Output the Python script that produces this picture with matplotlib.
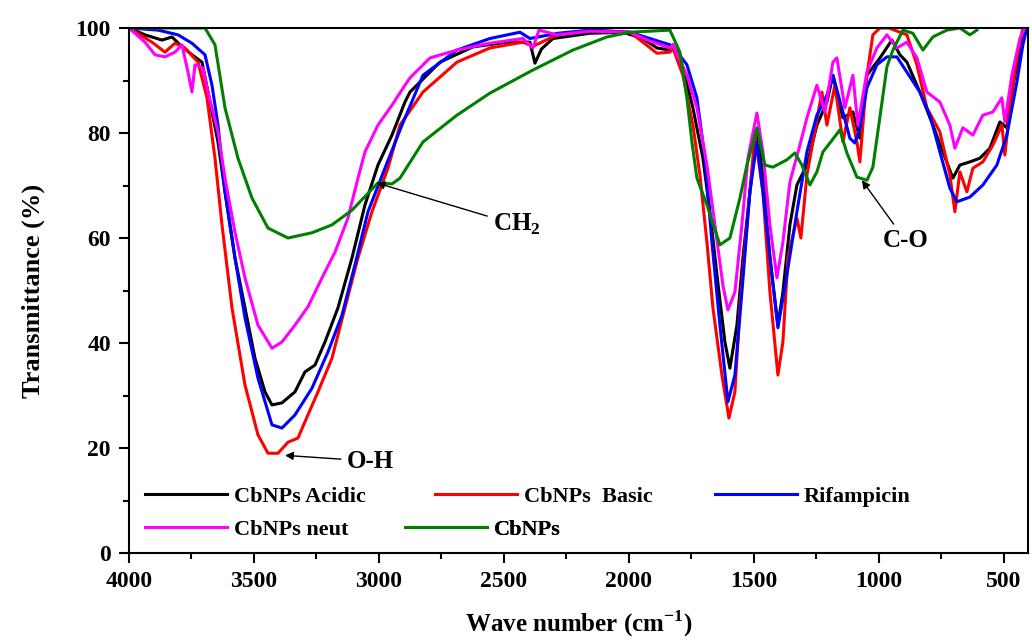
import numpy as np
import matplotlib
matplotlib.use('Agg')
import matplotlib.pyplot as plt

plt.rcParams['font.family'] = 'Liberation Serif'
plt.rcParams['font.weight'] = 'bold'
plt.rcParams['mathtext.fontset'] = 'custom'
plt.rcParams['mathtext.rm'] = 'Liberation Serif:bold'
plt.rcParams['mathtext.bf'] = 'Liberation Serif:bold'

# Спектры (волновое число, пропускание %)
acidic_x = [4000, 3936, 3868, 3828, 3796, 3748, 3708, 3684, 3644, 3616, 3576, 3536, 3496, 3456, 3428, 3388,
            3336, 3296, 3256, 3216, 3164, 3108, 3056, 3004, 2948, 2896, 2876, 2756, 2624, 2488, 2396, 2376,
            2350, 2304, 2156, 2024, 1944, 1888, 1836, 1824, 1784, 1744, 1704, 1676, 1648, 1616, 1596, 1568,
            1544, 1516, 1488, 1464, 1436, 1404, 1384, 1356, 1328, 1288, 1248, 1208, 1184, 1144, 1104, 1076,
            1048, 996, 948, 916, 888, 836, 784, 744, 704, 676, 636, 596, 556, 516, 488, 464, 436, 416]
acidic_y = [100, 98.7, 97.7, 98.3, 96.8, 94.9, 93.5, 87.8, 78.3, 68.8, 56.2, 46.7, 37.1, 30.7, 28.2, 28.6,
            30.7, 34.5, 35.8, 40.2, 46.7, 56.2, 66.3, 73.9, 79.6, 85.9, 87.8, 93.5, 96.4, 97.3, 97.3, 93.3,
            96, 98, 99, 99.2, 98, 96.2, 95.8, 96.8, 92.4, 84.8, 75.2, 65, 53, 40.2, 35.2, 43.4,
            56.2, 68.8, 80.2, 72, 56.2, 43.4, 49.7, 62.5, 70.1, 73.9, 81.5, 85.9, 91, 82.9, 84, 79,
            91, 94.3, 97.7, 94.9, 93.5, 87.8, 81.5, 76.4, 71.4, 73.9, 74.5, 75.2, 77.1, 82.1, 81, 89.1, 95.4, 100]

basic_x = [4000, 3908, 3856, 3816, 3776, 3724, 3688, 3656, 3628, 3588, 3536, 3484, 3444, 3404, 3364, 3324,
           3296, 3244, 3188, 3136, 3084, 3028, 2964, 2916, 2824, 2688, 2556, 2424, 2384, 2288, 2156, 1996,
           1944, 1888, 1836, 1824, 1784, 1744, 1716, 1688, 1664, 1628, 1600, 1576, 1556, 1528, 1496, 1464,
           1436, 1404, 1384, 1364, 1328, 1312, 1288, 1264, 1228, 1208, 1176, 1144, 1116, 1088, 1076, 1048,
           1024, 996, 960, 888, 848, 808, 756, 716, 696, 676, 648, 624, 584, 544, 508, 496, 476, 448, 424]
basic_y = [100, 97.3, 95.4, 97.1, 96.2, 93.5, 86.7, 75.2, 62.5, 46.7, 32, 22.5, 19, 19, 21.1, 21.9,
           25, 30.7, 37.1, 46.7, 56.2, 65, 73.3, 81.5, 87.8, 93.5, 96.2, 97.3, 96.5, 98.7, 99.6, 99.2,
           97.3, 95.2, 95.4, 96.2, 91, 81.5, 72, 59.2, 46.7, 33.9, 25.7, 30.7, 46.7, 62.5, 79.6, 68.8,
           49.7, 33.9, 40.2, 56.2, 63.8, 60, 72, 78.3, 87.8, 81.5, 89.1, 78.3, 84.8, 78.3, 74.5, 91,
           98.7, 100, 100, 98.7, 93, 84.8, 80.2, 72, 65, 72.6, 68.8, 73.3, 74.5, 77.7, 81.5, 75.8, 84.8, 94.3, 100]

rif_x = [4000, 3884, 3804, 3748, 3696, 3668, 3644, 3616, 3576, 3536, 3484, 3428, 3388, 3336, 3268, 3204,
         3148, 3096, 3044, 2976, 2908, 2824, 2688, 2556, 2436, 2396, 2284, 2156, 1996, 1916, 1836, 1824,
         1768, 1728, 1696, 1668, 1636, 1604, 1576, 1548, 1516, 1488, 1464, 1428, 1404, 1368, 1328, 1288,
         1248, 1208, 1184, 1144, 1116, 1096, 1076, 1048, 1008, 968, 928, 888, 836, 796, 756, 716,
         688, 636, 584, 528, 488, 448, 424, 408]
rif_y = [100, 99.6, 98.7, 97.1, 94.9, 89.1, 81.5, 68.8, 56.2, 44.8, 33.3, 24.4, 23.8, 26.3, 31.4, 38.3,
         45.3, 54.9, 65, 73.3, 81.5, 91, 95.8, 98, 99.2, 98, 99, 99.6, 99.2, 98, 96.8, 96.5,
         93, 86.7, 75.2, 59.2, 43.4, 28.8, 33.9, 49.7, 68.8, 78.3, 68.8, 53, 42.9, 53, 65, 76.4,
         83.4, 87.2, 91, 84, 79, 78.1, 81, 88.6, 93, 94.5, 94.5, 91.6, 87.8, 83.4, 76.4, 69.5,
         66.9, 67.8, 70.1, 73.9, 79.6, 89.7, 96.8, 100]

neut_x = [4000, 3936, 3896, 3856, 3816, 3788, 3764, 3748, 3736, 3704, 3684, 3644, 3616, 3576, 3536, 3484,
          3428, 3388, 3336, 3284, 3228, 3176, 3124, 3084, 3056, 3004, 2948, 2896, 2876, 2796, 2688, 2556,
          2424, 2384, 2360, 2288, 2156, 1996, 1916, 1836, 1824, 1768, 1728, 1688, 1656, 1624, 1604, 1576,
          1548, 1524, 1488, 1464, 1436, 1408, 1384, 1356, 1316, 1288, 1248, 1216, 1184, 1168, 1136, 1104,
          1084, 1048, 1008, 968, 928, 888, 848, 808, 756, 716, 696, 664, 624, 584, 544, 508, 496,
          468, 436, 416]
neut_y = [100, 97.3, 94.9, 94.5, 95.4, 96.8, 91.6, 87.8, 93, 92.4, 87.8, 80.2, 71.4, 61.1, 52.4, 43.4,
          39, 40.2, 43.4, 46.9, 52.4, 57.3, 63.8, 71.4, 76.4, 81.5, 85.3, 89.1, 90.5, 94.3, 95.8, 97.1,
          98, 96.2, 99.6, 98.7, 99.4, 99.2, 97.5, 96.2, 96.8, 91, 84.8, 73.9, 62.5, 51, 46.3, 49.7,
          62.5, 75.2, 83.8, 76.4, 62.5, 52.4, 59.2, 70.7, 77.7, 82.9, 89.1, 84, 93.5, 94.3, 84.8, 91,
          81.5, 91.6, 96.2, 98.7, 96.2, 97.3, 94.3, 87.8, 85.9, 81.5, 77.1, 81, 79.6, 83.4, 84, 86.7, 82.1,
          91, 98, 100]

cb_x = [4000, 3696, 3656, 3616, 3564, 3508, 3444, 3364, 3268, 3188, 3108, 3004, 2948, 2916, 2824, 2688,
        2556, 2384, 2224, 2088, 1996, 1836, 1796, 1768, 1748, 1728, 1688, 1636, 1596, 1556, 1528, 1488,
        1456, 1424, 1368, 1336, 1308, 1276, 1248, 1224, 1196, 1156, 1128, 1088, 1048, 1024, 996, 968,
        944, 904, 864, 824, 784, 728, 676, 636, 608]
cb_y = [100, 100, 96.8, 84.8, 75.2, 67.6, 61.9, 60, 61, 62.5, 65.3, 70.5, 70.3, 71.4, 78.3, 83.4,
        87.6, 92, 95.8, 98.3, 99.2, 99.6, 95.4, 86.7, 78.3, 71.4, 66.3, 58.7, 60, 67.6, 73.9, 81,
        73.9, 73.5, 74.9, 76.2, 73.9, 70.1, 72.6, 76.4, 78.1, 80.6, 76.2, 71.6, 71, 73.5, 83, 92.6,
        95.8, 99.6, 99, 95.8, 98.3, 99.6, 100, 98.7, 99.6]

fig = plt.figure(figsize=(10.32, 6.44), dpi=100)
ax = fig.add_axes([0.125, 0.1413, 0.871, 0.8152])

lw = 2.2
l1, = ax.plot(acidic_x, acidic_y, color='black', lw=lw, label='CbNPs Acidic')
l2, = ax.plot(basic_x, basic_y, color='red', lw=lw, label='CbNPs  Basic')
l3, = ax.plot(rif_x, rif_y, color='blue', lw=lw, label='Rifampicin')
l4, = ax.plot(neut_x, neut_y, color='magenta', lw=lw, label='CbNPs neut')
l5, = ax.plot(cb_x, cb_y, color='green', lw=lw, label='CbNPs')

ax.set_xlim(4000, 404)
ax.set_ylim(0, 100)
ax.set_xticks([4000, 3500, 3000, 2500, 2000, 1500, 1000, 500])
ax.set_xticks(np.arange(3750, 400, -500), minor=True)
ax.set_yticks([0, 20, 40, 60, 80, 100])
ax.set_yticks([10, 30, 50, 70, 90], minor=True)
ax.tick_params(which='major', direction='out', length=7, width=1.5, labelsize=17, pad=6)
ax.tick_params(which='minor', direction='out', length=4, width=1.5)
for s in ax.spines.values():
    s.set_linewidth(1.5)

ax.set_xlabel(r'Wave number (cm$^{-1}$)', fontsize=18, fontweight='bold', labelpad=12)
ax.set_ylabel('Transmittance (%)', fontsize=19, fontweight='bold', labelpad=22)

# Подписи полос
arr = dict(arrowstyle='-|>', color='black', lw=1, mutation_scale=12, shrinkA=2, shrinkB=0)
ax.annotate('O-H', xy=(3376, 18.6), xytext=(3130, 17.5), fontsize=18, fontweight='bold',
            va='center', arrowprops=arr)
ax.annotate(r'CH$_2$', xy=(3010, 70.5), xytext=(2545, 62.5), fontsize=18, fontweight='bold',
            va='center', arrowprops=arr)
ax.annotate('C-O', xy=(1068, 71), xytext=(985, 59.5), fontsize=18, fontweight='bold',
            va='center', arrowprops=arr)

# Легенда: каждая запись на своём месте, как в оригинале
leg_pos = [(0.018, 0.107), (0.340, 0.107), (0.652, 0.107), (0.018, 0.044), (0.307, 0.044)]
for line, pos in zip([l1, l2, l3, l4, l5], leg_pos):
    lg = ax.legend(handles=[line], loc='center left', bbox_to_anchor=pos,
                   frameon=False, fontsize=16, handlelength=3.7, handletextpad=0.3,
                   borderpad=0, borderaxespad=0)
    ax.add_artist(lg)

plt.savefig('out.png', dpi=100)
